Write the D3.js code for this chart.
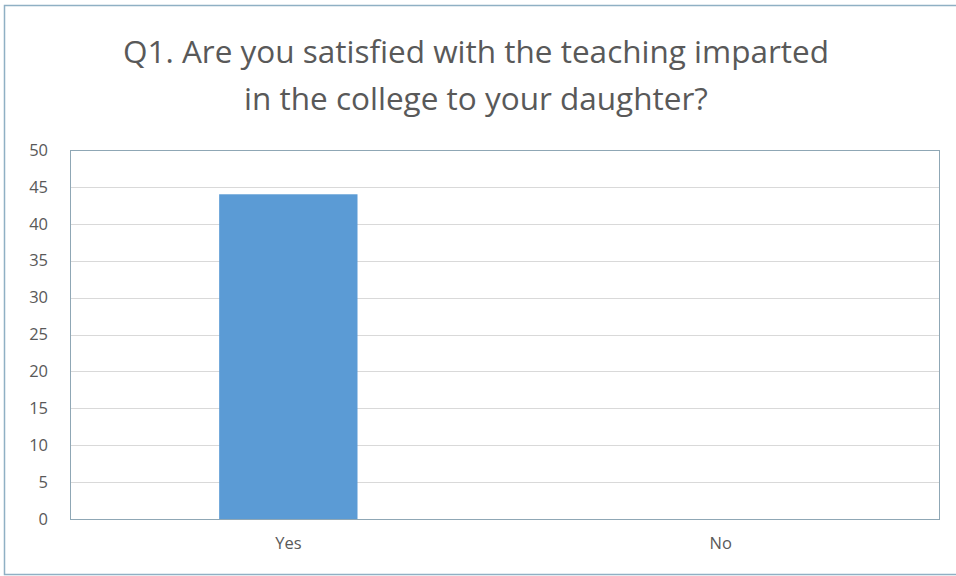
<!DOCTYPE html>
<html><head><meta charset="utf-8">
<script src="https://cdn.jsdelivr.net/npm/d3@7"></script>
<style>body{margin:0;background:#fff}svg{display:block}</style>
</head><body>
<script>
const titleLines = ["Q1. Are you satisfied with the teaching imparted", "in the college to your daughter?"];
const categories = ["Yes", "No"];
const values = [44, 0];
const yTicks = [0, 5, 10, 15, 20, 25, 30, 35, 40, 45, 50];

const W = 956, H = 576;
const m = {left: 70, right: 17, top: 150, bottom: 57};
const svg = d3.select("body").append("svg").attr("width", W).attr("height", H);

svg.append("rect").attr("x", 4.5).attr("y", 5.5).attr("width", W + 10).attr("height", H - 7)
  .attr("fill", "#fff").attr("stroke", "#8fb0c4").attr("stroke-width", 1.5);

const font = "'Open Sans', 'Liberation Sans', sans-serif";
svg.append("g").selectAll("text").data(titleLines).join("text")
  .attr("x", 476).attr("y", (d, i) => 63 + i * 47)
  .attr("text-anchor", "middle").attr("font-family", font).attr("font-size", 31.5)
  .attr("fill", "#595959").text(d => d);

const x = d3.scaleBand().domain(categories).range([m.left, W - m.right]).paddingInner(0.68).paddingOuter(0.345);
const y = d3.scaleLinear().domain([0, 50]).range([H - m.bottom, m.top]);

const grid = svg.append("g");
grid.selectAll("line").data(yTicks).join("line")
  .attr("x1", m.left).attr("x2", W - m.right)
  .attr("y1", d => Math.round(y(d)) + 0.5).attr("y2", d => Math.round(y(d)) + 0.5)
  .attr("stroke", "#d9d9d9").attr("stroke-width", 1);

svg.append("g").selectAll("rect").data(values).join("rect")
  .attr("x", (d, i) => x(categories[i])).attr("width", x.bandwidth())
  .attr("y", d => y(d)).attr("height", d => y(0) - y(d))
  .attr("fill", "#5b9bd5");

svg.append("rect").attr("x", m.left + 0.5).attr("y", m.top + 0.5)
  .attr("width", W - m.right - m.left).attr("height", H - m.bottom - m.top)
  .attr("fill", "none").attr("stroke", "#8fa7b5").attr("stroke-width", 1);

const yAxis = svg.append("g").attr("transform", `translate(${m.left},0)`)
  .call(d3.axisLeft(y).tickValues(yTicks).tickSize(0).tickPadding(22));
yAxis.select(".domain").remove();
yAxis.selectAll("text").attr("font-family", font).attr("font-size", 16.5).attr("fill", "#595959");

const xAxis = svg.append("g").attr("transform", `translate(0,${H - m.bottom})`)
  .call(d3.axisBottom(x).tickSize(0).tickPadding(18));
xAxis.select(".domain").remove();
xAxis.selectAll("text").attr("font-family", font).attr("font-size", 16.5).attr("fill", "#595959");
</script>
</body></html>
